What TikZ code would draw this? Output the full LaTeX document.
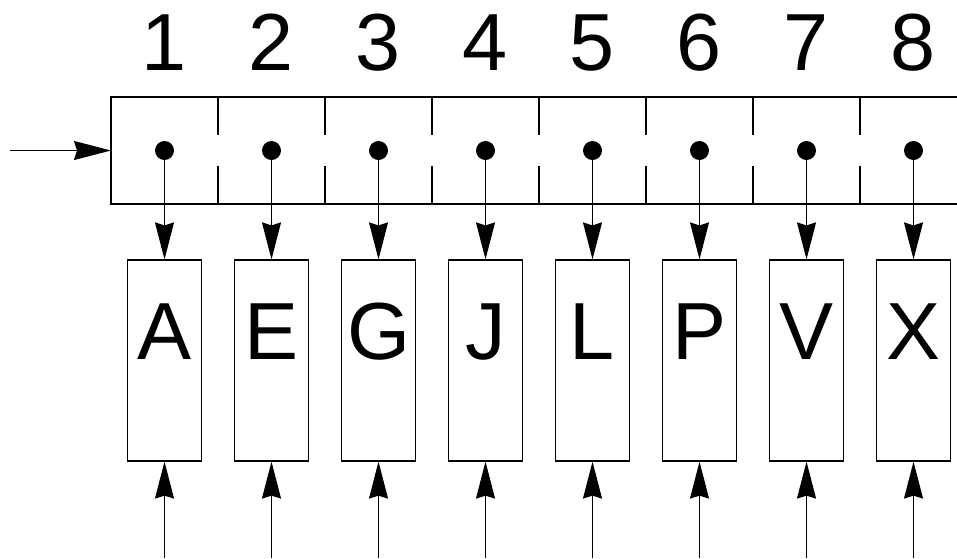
\documentclass[tikz,border=0pt]{standalone}
\usepackage{fontspec}
\setmainfont{Liberation Sans}
\usetikzlibrary{arrows.meta}
\begin{document}
\begin{tikzpicture}[x=1pt,y=-1pt,
  line width=1.2pt,
  arr/.style={-{Stealth[length=37pt,width=19pt,inset=3pt]}},
  dotmark/.style={circle,fill=black,inner sep=0pt,minimum size=19pt},
  slotbox/.style={draw,rectangle,minimum width=74pt,minimum height=201pt,inner sep=0pt},
  biglabel/.style={font=\fontsize{81pt}{81pt}\selectfont,anchor=base,inner sep=0pt},
]
\useasboundingbox (0,0) rectangle (957,558);
\clip (0,0) rectangle (957,558);
% array of eight cells, open on the right
\coordinate (arrTL) at (111,97);
\coordinate (arrBL) at (111,204);
\draw (1000,97) -- (arrTL) -- (arrBL) -- (1000,204);
\coordinate (arrIn) at (111,150.5);
\coordinate (src) at (10,150.5);
\draw[arr] (src) -- (arrIn);
\foreach \k [count=\i from 0] in {1,...,8} {
  \pgfmathsetmacro{\cx}{164.5+107*\i}
  \pgfmathsetmacro{\dx}{111+107*\k}
  % cell dividers with a gap in the middle
  \draw (\dx,97) -- (\dx,135);
  \draw (\dx,166) -- (\dx,204);
  % index above the cell
  \node[biglabel] (n\k) at (\cx,70) {\k};
  % pointer dot
  \node[dotmark] (d\k) at (\cx,150.5) {};
  % target box
  \node[slotbox] (b\k) at (\cx,360.5) {};
  % feed from below
  \coordinate (u\k) at (\cx,558);
  \draw[arr] (u\k) -- (b\k.south);
  \draw[arr] (d\k.center) -- (b\k.north);
}
% letters inside the target boxes
\foreach \k/\t in {1/A,2/E,3/G,4/J,5/L,6/P,7/V,8/X} {
  \path (b\k.north) ++(0,100) coordinate (base\k);
  \node[biglabel] (L\k) at (base\k) {\t};
}
\end{tikzpicture}
\end{document}
